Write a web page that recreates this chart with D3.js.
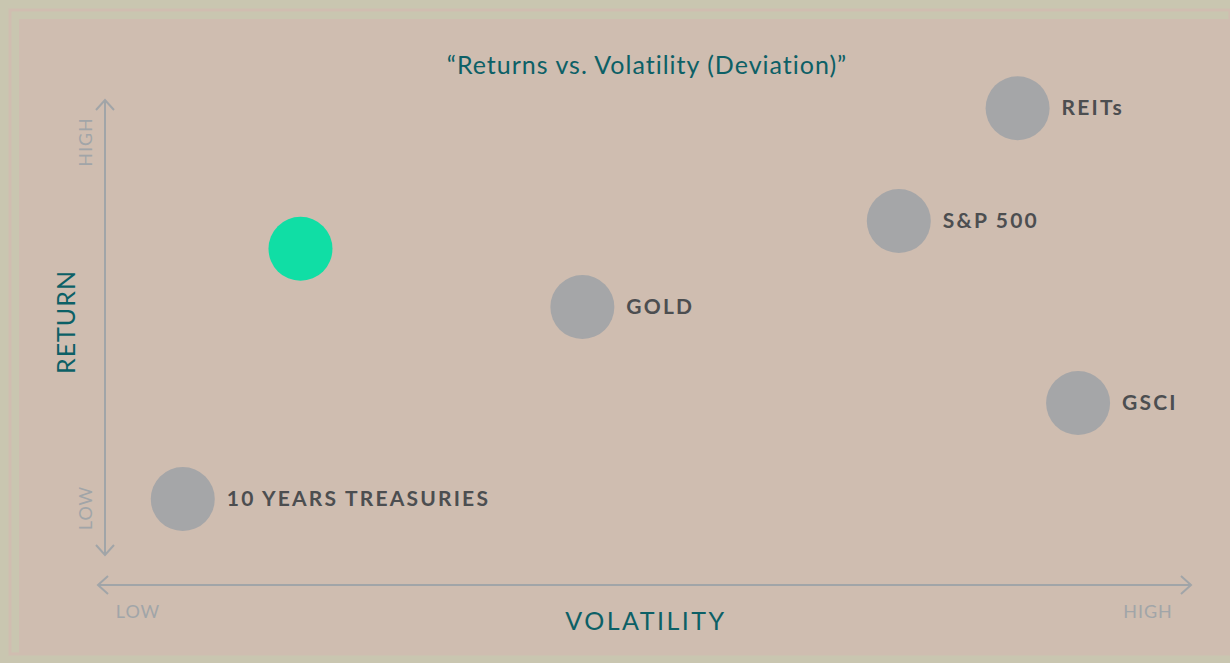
<!DOCTYPE html>
<html>
<head>
<meta charset="utf-8">
<script src="https://cdn.jsdelivr.net/npm/d3@7"></script>
<style>
  body { margin: 0; background: #c9c6b0; }
  svg { display: block; }
</style>
</head>
<body>
<svg width="1230" height="663"></svg>
<script>
// data
var assets = ["10 YEARS TREASURIES", "", "GOLD", "S&P 500", "REITs", "GSCI"];
var volatility = [0.72, 1.81, 4.42, 7.35, 8.45, 9.01];
var returns = [1.23, 6.73, 5.45, 7.34, 9.82, 3.34];
var highlight = [false, true, false, false, false, false];

var svg = d3.select("svg"),
    width = +svg.attr("width"),
    height = +svg.attr("height");

var teal = "#0c6066", axisGrey = "#a1a5a8";

// frame
svg.append("rect").attr("width", width).attr("height", height).attr("fill", "#c9c6b0");
svg.append("rect").attr("x", 10).attr("y", 10).attr("width", width - 10).attr("height", 644)
    .attr("fill", "none").attr("stroke", "#d0bdb0").attr("stroke-width", 3);
svg.append("rect").attr("x", 19).attr("y", 19).attr("width", width - 19).attr("height", 636)
    .attr("fill", "#cfbdb0");

var x = d3.scaleLinear().domain([0, 10]).range([105, 1185]),
    y = d3.scaleLinear().domain([0, 10]).range([555, 100]);

// arrows
var g = svg.append("g").attr("stroke", axisGrey).attr("stroke-width", 2).attr("fill", "none");
g.append("line").attr("x1", 105).attr("x2", 105).attr("y1", y(10)).attr("y2", y(0));
g.append("path").attr("d", "M96," + (y(10) + 10) + "L105," + y(10) + "L114," + (y(10) + 10));
g.append("path").attr("d", "M96," + (y(0) - 10) + "L105," + y(0) + "L114," + (y(0) - 10));
g.append("line").attr("x1", 98).attr("x2", 1191).attr("y1", 585).attr("y2", 585);
g.append("path").attr("d", "M108,576L98,585L108,594");
g.append("path").attr("d", "M1181,576L1191,585L1181,594");

// end labels
var small = { "font-family": "Lato, sans-serif", "font-size": "18px", "fill": axisGrey, "letter-spacing": "1px" };
function txt(t, px, py, rot, anchor, style) {
  var el = svg.append("text")
      .attr("transform", "translate(" + px + "," + py + ")" + (rot ? " rotate(" + rot + ")" : ""))
      .attr("text-anchor", anchor)
      .text(t);
  for (var k in style) el.style(k, style[k]);
  return el;
}
txt("HIGH", 92, 142, -90, "middle", small);
txt("LOW", 92, 508, -90, "middle", small);
txt("LOW", 138, 618, 0, "middle", small);
txt("HIGH", 1148, 618, 0, "middle", small);

var big = { "font-family": "Lato, sans-serif", "font-size": "25px", "fill": teal, "letter-spacing": "1px" };
txt("RETURN", 75, 322, -90, "middle", big);
txt("VOLATILITY", 646, 630, 0, "middle", big).style("letter-spacing", "2.5px");
txt("\u201cReturns vs. Volatility (Deviation)\u201d", 647, 74, 0, "middle", big);

// bubbles
var data = assets.map(function(a, i) {
  return { name: a, vx: volatility[i], ry: returns[i], hl: highlight[i] };
});

svg.selectAll(".dot")
  .data(data)
  .enter().append("circle")
    .attr("class", "dot")
    .attr("cx", function(d) { return x(d.vx); })
    .attr("cy", function(d) { return y(d.ry); })
    .attr("r", 32)
    .attr("fill", function(d) { return d.hl ? "#10dea5" : "#a5a6a8"; });

svg.selectAll(".lbl")
  .data(data)
  .enter().append("text")
    .attr("class", "lbl")
    .attr("x", function(d) { return x(d.vx) + 44; })
    .attr("y", function(d) { return y(d.ry) + 7; })
    .style("font-family", "Lato, sans-serif")
    .style("font-weight", "700")
    .style("font-size", "21px")
    .style("letter-spacing", "2.2px")
    .style("fill", "#4c4e50")
    .text(function(d) { return d.name; });
</script>
</body>
</html>
